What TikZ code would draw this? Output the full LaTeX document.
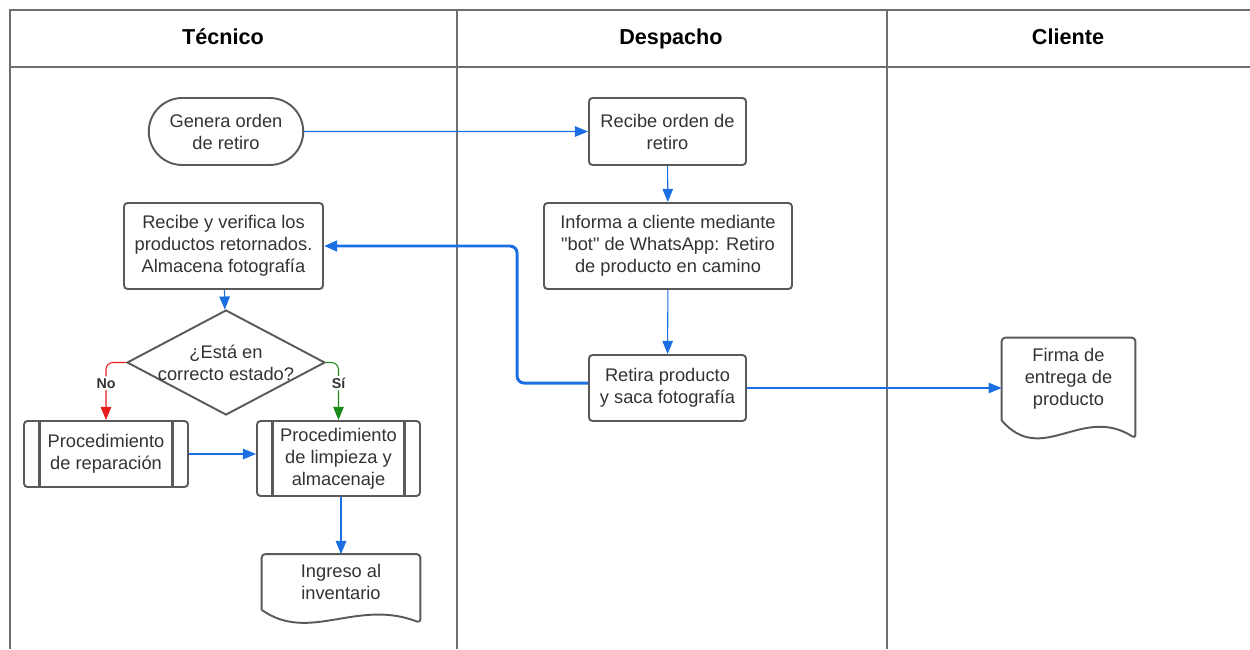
\documentclass[tikz,border=0pt]{standalone}
\usepackage{fontspec}
\setmainfont{Liberation Sans}[Ligatures=TeXOff]
\usetikzlibrary{shapes.geometric,shapes.misc,arrows.meta,calc}

\definecolor{lanegray}{HTML}{6E6E6E}
\definecolor{boxgray}{HTML}{5A5A5A}
\definecolor{textgray}{HTML}{333333}
\definecolor{flowblue}{HTML}{1C6FE3}
\definecolor{flowred}{HTML}{E81E1E}
\definecolor{flowgreen}{HTML}{178A17}

\begin{document}
\begin{tikzpicture}[x=0.02cm, y=-0.02cm, font=\fontsize{10.4}{12.5}\selectfont, text=textgray,
        box/.style={draw=boxgray, line width=1.1pt, align=center, inner sep=1pt},
        process/.style={box, rectangle, rounded corners=2pt},
        terminal/.style={box, rounded rectangle},
        decision/.style={box, diamond},
        subproc/.style={box, rectangle, rounded corners=2pt, path picture={
            \draw[boxgray, line width=1.3pt]
                ([xshift=0.31cm]path picture bounding box.north west) -- ([xshift=0.31cm]path picture bounding box.south west)
                ([xshift=-0.31cm]path picture bounding box.north east) -- ([xshift=-0.31cm]path picture bounding box.south east);}},
        document/.style={align=center, inner sep=1pt},
        lanetitle/.style={font=\fontsize{12.3}{14}\selectfont\bfseries, text=black, text height=0.72em, text depth=0pt},
        flow/.style={draw=flowblue, line width=0.6pt, -{Triangle[length=7.5pt,width=6pt]}},
        answer/.style={font=\fontsize{8.1}{9}\selectfont\bfseries, fill=white, inner sep=1pt}]
    \useasboundingbox (0,0) rectangle (1250,649);

    % swimlanes
    \draw[lanegray, line width=0.85pt] (10,649) -- (10,10) -- (1250,10);
    \draw[lanegray, line width=1.4pt] (10,67) -- (1250,67);
    \draw[lanegray, line width=0.85pt] (457,10) -- (457,649);
    \draw[lanegray, line width=0.85pt] (887,10) -- (887,649);

    \node[lanetitle] (tecnico) at (223,38) {Técnico};
    \node[lanetitle] (despacho) at (671,38) {Despacho};
    \node[lanetitle] (cliente) at (1068,38) {Cliente};

    % Tecnico
    \node[terminal, minimum width=3.16cm, minimum height=1.34cm] (genera) at (226,131.5) {Genera orden\\de retiro};
    \node[process, minimum width=3.98cm, minimum height=1.72cm] (verifica) at (223.5,246) {Recibe y verifica los\\productos retornados.\\Almacena fotografía};
    \node[decision, minimum width=3.96cm, minimum height=2.1cm,
          label={[align=center]center:¿Está en\\correcto estado?}] (estado) at (226,362.5) {};
    \node[subproc, minimum width=3.28cm, minimum height=1.32cm] (reparacion) at (106,454) {Procedimiento\\de reparación};
    \node[subproc, minimum width=3.26cm, minimum height=1.5cm] (limpieza) at (338.5,458.5) {Procedimiento\\de limpieza y\\almacenaje};
    \node[document, minimum width=3.16cm, minimum height=1.1cm] (ingreso) at (341,582) {Ingreso al\\inventario};

    % Despacho
    \node[process, minimum width=3.14cm, minimum height=1.34cm] (recibe) at (667.5,131.5) {Recibe orden de\\retiro};
    \node[process, minimum width=4.96cm, minimum height=1.72cm] (informa) at (668,246) {Informa a cliente mediante\\"bot" de WhatsApp: Retiro\\de producto en camino};
    \node[process, minimum width=3.14cm, minimum height=1.32cm] (retira) at (667.5,388) {Retira producto\\y saca fotografía};

    % Cliente
    \node[document, minimum width=2.66cm, minimum height=1.64cm] (firma) at (1068.5,379) {Firma de\\entrega de\\producto};

    % document outlines
    \foreach \n/\d in {ingreso/13, firma/18} {
        \draw[boxgray, line width=1.1pt, rounded corners=2pt]
            (\n.south west) -- (\n.north west) -- (\n.north east) -- ($(\n.south east)+(0,\d)$)
            [sharp corners] .. controls ($(\n.south west)!0.6!(\n.south east)+(0,-0.9*\d)$)
            and ($(\n.south west)!0.3!(\n.south east)+(0,2.6*\d)$) .. (\n.south west);
    }

    % connectors
    \draw[flow] (genera) -- (recibe);
    \draw[flow] (recibe) -- (informa);
    \draw[flow] (informa) -- (retira);
    \draw[flow] (retira.east) -- (retira.east -| firma.west);
    \draw[flow, line width=1.7pt, rounded corners=4pt] ([yshift=0.1cm]retira.west) -- ++(-71,0) |- (verifica.east);
    \draw[flow] (verifica) -- (estado);
    \draw[flow, draw=flowred, rounded corners=4pt] (estado.west) -| node[answer, pos=0.68] {No} (reparacion.north);
    \draw[flow, draw=flowgreen, rounded corners=4pt] (estado.east) -| node[answer, pos=0.68] {Sí} (limpieza.north);
    \draw[flow] (reparacion.east) -- (reparacion.east -| limpieza.west);
    \draw[flow] (ingreso.north |- limpieza.south) -- (ingreso.north);
\end{tikzpicture}
\end{document}
